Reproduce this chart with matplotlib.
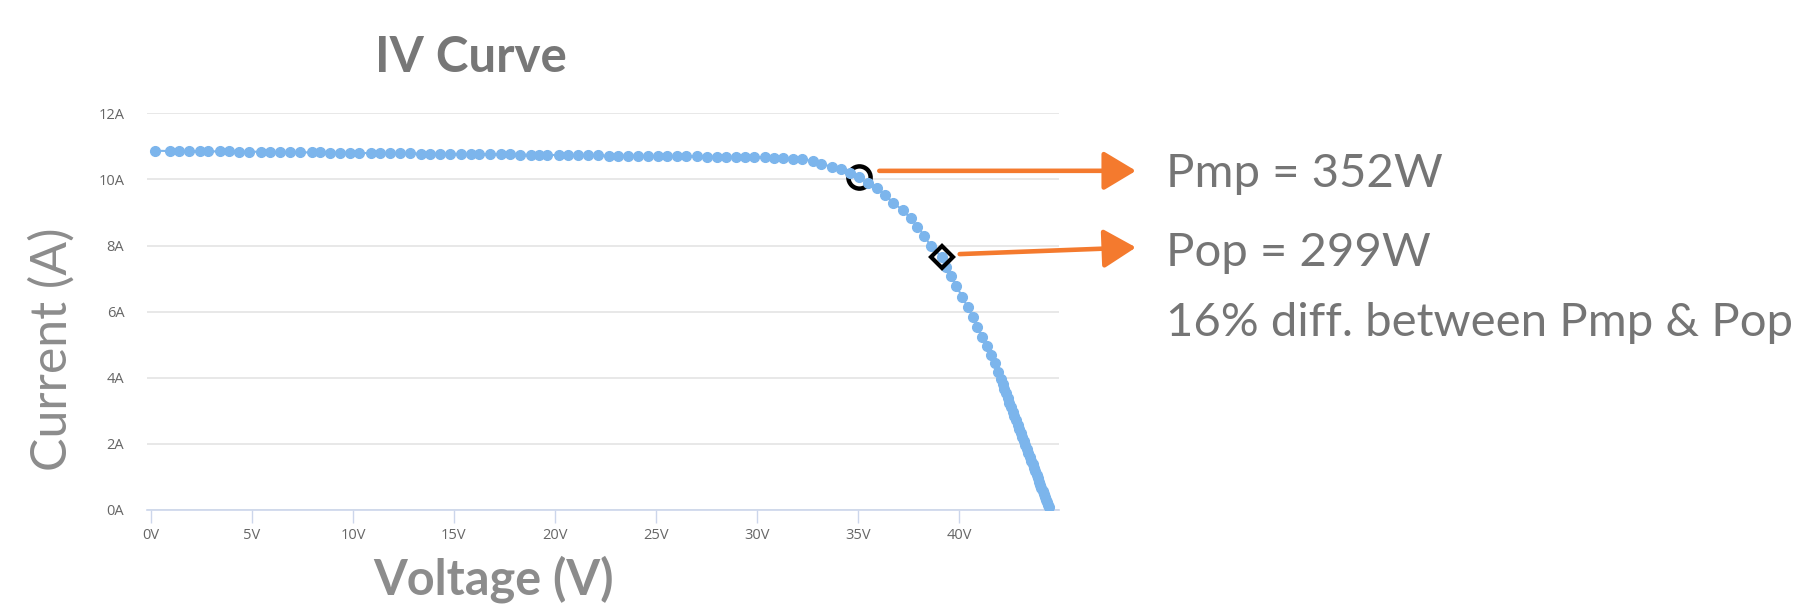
import matplotlib
matplotlib.use("Agg")
import matplotlib.pyplot as plt

# IV curve points (volts, amps)
voltage = [
    0.20, 0.94, 1.40, 1.89, 2.43, 2.84, 3.42, 3.88, 4.37, 4.87,
    5.43, 5.89, 6.39, 6.88, 7.38, 7.96, 8.37, 8.86, 9.36, 9.85,
    10.31, 10.87, 11.34, 11.83, 12.33, 12.82, 13.35, 13.81, 14.31, 14.80,
    15.33, 15.83, 16.25, 16.78, 17.31, 17.77, 18.27, 18.80, 19.22, 19.62,
    20.21, 20.66, 21.15, 21.65, 22.14, 22.69, 23.13, 23.63, 24.12, 24.62,
    25.11, 25.56, 26.05, 26.49, 27.04, 27.51, 28.00, 28.47, 28.96, 29.41,
    29.85, 30.40, 30.84, 31.30, 31.77, 32.24, 32.76, 33.17, 33.70, 34.16,
    34.60, 35.06, 35.51, 35.93, 36.34, 36.75, 37.21, 37.62, 37.95, 38.28,
    38.61, 39.14, 39.37, 39.62, 39.88, 40.16, 40.44, 40.69, 40.91, 41.16,
    41.40, 41.60, 41.78, 41.96, 42.07, 42.16, 42.25, 42.33, 42.42, 42.50,
    42.59, 42.67, 42.75, 42.83, 42.91, 42.99, 43.07, 43.14, 43.22, 43.29,
    43.36, 43.44, 43.51, 43.58, 43.65, 43.71, 43.78, 43.85, 43.91, 43.97,
    44.03, 44.09, 44.15, 44.21, 44.26, 44.31, 44.36, 44.40, 44.44,
]
current = [
    10.87, 10.86, 10.86, 10.86, 10.85, 10.85, 10.85, 10.85, 10.84, 10.84,
    10.84, 10.83, 10.83, 10.83, 10.82, 10.82, 10.82, 10.81, 10.81, 10.81,
    10.80, 10.80, 10.80, 10.79, 10.79, 10.79, 10.78, 10.78, 10.78, 10.78,
    10.77, 10.77, 10.77, 10.76, 10.76, 10.76, 10.75, 10.75, 10.75, 10.74,
    10.74, 10.74, 10.73, 10.73, 10.73, 10.72, 10.72, 10.72, 10.72, 10.71,
    10.71, 10.71, 10.70, 10.70, 10.70, 10.69, 10.69, 10.69, 10.68, 10.68,
    10.68, 10.67, 10.66, 10.64, 10.62, 10.61, 10.56, 10.48, 10.38, 10.31,
    10.21, 10.06, 9.88, 9.73, 9.53, 9.30, 9.07, 8.82, 8.57, 8.30,
    7.98, 7.66, 7.36, 7.08, 6.77, 6.45, 6.13, 5.84, 5.54, 5.24,
    4.96, 4.68, 4.43, 4.18, 3.95, 3.80, 3.66, 3.52, 3.38, 3.24,
    3.10, 2.97, 2.84, 2.71, 2.58, 2.45, 2.32, 2.20, 2.08, 1.96,
    1.84, 1.72, 1.60, 1.49, 1.38, 1.27, 1.16, 1.05, 0.95, 0.85,
    0.75, 0.65, 0.56, 0.47, 0.38, 0.30, 0.22, 0.15, 0.09,
]

pmp_v, pmp_i = 35.06, 10.06
pop_v, pop_i = 39.14, 7.66

x_ticks = [0, 5, 10, 15, 20, 25, 30, 35, 40]
x_tick_labels = ["0V", "5V", "10V", "15V", "20V", "25V", "30V", "35V", "40V"]
y_ticks = [0, 2, 4, 6, 8, 10, 12]
y_tick_labels = ["0A", "2A", "4A", "6A", "8A", "10A", "12A"]

notes = ["Pmp = 352W", "Pop = 299W", "16% diff. between Pmp & Pop"]

plt.rcParams['font.family'] = ['Lato', 'DejaVu Sans']

fig = plt.figure(figsize=(17.96, 6.10), dpi=100)
ax = fig.add_axes([0.0816, 0.1644, 0.5083, 0.6497])

ax.plot(pmp_v, pmp_i, 'o', ms=16, mfc='none', mec='black', mew=3.2, zorder=2)
ax.plot(voltage, current, '-o', color='#7cb5ec', lw=1.5, ms=7, zorder=3)
ax.plot(pop_v, pop_i, 'D', ms=11, mfc='none', mec='black', mew=3, zorder=4)

ax.set_xlim(-0.22, 44.98)
ax.set_ylim(0, 12)
ax.set_xticks(x_ticks)
ax.set_xticklabels(x_tick_labels, family='Open Sans', fontsize=10.5, color='#666666')
ax.set_yticks(y_ticks)
ax.set_yticklabels(y_tick_labels, family='Open Sans', fontsize=10.5, color='#666666')

for s in ['top', 'right', 'left']:
    ax.spines[s].set_visible(False)
ax.spines['bottom'].set_color('#ccd6eb')
ax.spines['bottom'].set_linewidth(1.2)
ax.tick_params(axis='x', length=9, width=1, color='#ccd6eb', pad=4)
ax.tick_params(axis='y', length=0, pad=16)
ax.grid(axis='y', color='#e6e6e6', lw=1.3)
ax.set_axisbelow(True)

fig.text(0.2622, 0.905, "IV Curve", ha='center', va='center',
         fontsize=35.5, fontweight='bold', color='#777777')
fig.text(0.275, 0.026, "Voltage (V)", ha='center', va='baseline',
         fontsize=35, fontweight='bold', color='#8c8c8c')
fig.text(0.029, 0.428, "Current (A)", ha='center', va='center', rotation=90,
         fontsize=36, fontweight='normal', color='#8c8c8c')

note_y = [0.694, 0.5644, 0.4498]
for txt, y in zip(notes, note_y):
    fig.text(0.649, y, txt, ha='left', va='baseline', fontsize=34, color='#757575')

# orange arrows from the two points to the labels
arrow_kw = dict(arrowstyle='-|>,head_length=2.0,head_width=1.2', color='#f47a2e',
                lw=3.3, shrinkA=0, shrinkB=0)
ax.annotate('', xy=(0.6325, 0.720), xycoords='figure fraction',
            xytext=(pmp_v + 1.0, pmp_i + 0.2), textcoords='data',
            arrowprops=arrow_kw, annotation_clip=False)
ax.annotate('', xy=(0.6325, 0.5944), xycoords='figure fraction',
            xytext=(pop_v + 0.9, pop_i + 0.08), textcoords='data',
            arrowprops=arrow_kw, annotation_clip=False)

fig.savefig('out.png', dpi=100)
